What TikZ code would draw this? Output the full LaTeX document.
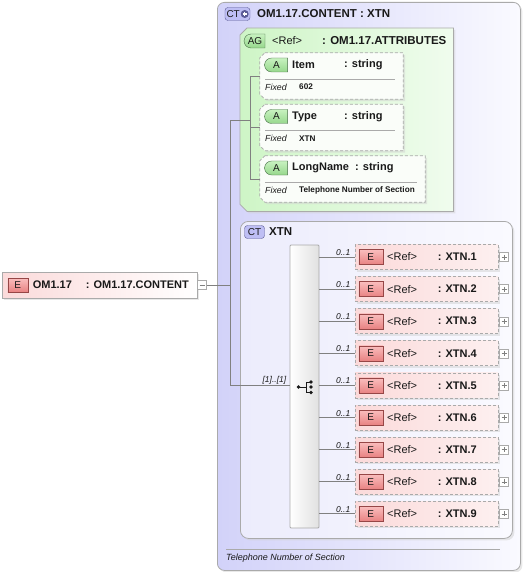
\documentclass[tikz,border=0pt]{standalone}
\usepackage{fontspec}
\setmainfont{Liberation Sans}
\usetikzlibrary{positioning,calc,shapes.misc,shadows}

\definecolor{ctlav}{RGB}{210,210,249}
\definecolor{ctlavr}{RGB}{250,250,255}
\definecolor{ctin}{RGB}{236,236,252}
\definecolor{aggreen}{RGB}{206,245,198}
\definecolor{aggreenl}{RGB}{240,252,238}
\definecolor{attrfill}{RGB}{250,253,249}
\definecolor{elpink}{RGB}{251,218,218}
\definecolor{elpinkl}{RGB}{253,240,240}
\definecolor{ebtop}{RGB}{250,190,190}
\definecolor{ebbot}{RGB}{232,130,130}
\definecolor{ebdraw}{RGB}{150,70,70}
\definecolor{abtop}{RGB}{200,242,192}
\definecolor{abbot}{RGB}{150,215,140}
\definecolor{abdraw}{RGB}{70,110,70}
\definecolor{ctbfill}{RGB}{190,190,244}
\definecolor{ctbdraw}{RGB}{90,90,150}
\definecolor{lineg}{RGB}{128,128,128}
\definecolor{boxg}{RGB}{170,170,170}
\definecolor{txt}{RGB}{25,25,25}

% outline of a box with cut left corners, round node #1
\newcommand\chamfbox[3]{%
  \path[#3] ([xshift=#2]#1.north west) -- (#1.north east) -- (#1.south east)
    -- ([xshift=#2]#1.south west) -- ([yshift=#2]#1.south west)
    -- ([yshift=-#2]#1.north west) -- cycle;}

\tikzset{
    conn/.style={draw=lineg, line width=0.7pt},
    sepline/.style={draw=boxg, line width=0.7pt},
    softshadow/.style={drop shadow={shadow xshift=2pt, shadow yshift=-2pt, fill=black!18}},
    area/.style={rectangle, inner sep=0pt},
    ctouter/.style={
        rectangle,
        rounded corners=7pt,
        draw=boxg, line width=0.8pt,
        left color=ctlav, right color=ctlavr,
        inner sep=0pt,
        softshadow
    },
    ctinner/.style={
        rectangle,
        rounded corners=8pt,
        draw=boxg, line width=0.8pt,
        left color=ctin, right color=ctlavr,
        inner sep=0pt,
        softshadow
    },
    agbox/.style={
        draw=boxg, line width=0.8pt,
        left color=aggreen, right color=aggreenl,
        softshadow
    },
    attrbox/.style={
        draw=boxg, line width=0.8pt, dash pattern=on 3pt off 2pt,
        fill=attrfill,
        softshadow
    },
    elbox/.style={
        rectangle,
        draw=boxg, line width=0.8pt, dash pattern=on 3pt off 2pt,
        left color=elpink, right color=elpinkl,
        minimum width=143pt, minimum height=25pt,
        inner sep=0pt,
        softshadow
    },
    seqbar/.style={
        rectangle,
        rounded corners=1pt,
        draw=boxg, line width=0.8pt,
        left color=white, right color=black!12,
        inner sep=0pt
    },
    ebadge/.style={
        rectangle,
        draw=ebdraw,
        top color=ebtop, bottom color=ebbot,
        minimum width=24pt, minimum height=15pt,
        inner sep=0pt, text=txt,
        font={\fontsize{10}{10}\selectfont}
    },
    abadge/.style={
        rounded rectangle, rounded rectangle right arc=none,
        draw=abdraw,
        top color=abtop, bottom color=abbot,
        minimum width=23pt, minimum height=14pt,
        inner sep=0pt, text=txt,
        font={\fontsize{10}{10}\selectfont}
    },
    ctbadge/.style={
        rectangle, rounded corners=3pt,
        draw=ctbdraw, fill=ctbfill,
        minimum height=13pt,
        inner sep=0pt, text=txt,
        font={\fontsize{10}{10}\selectfont}
    },
    plusdot/.style={
        circle, fill=ctbdraw, minimum size=8pt, inner sep=0pt,
        path picture={\draw[white, line width=1.2pt]
            ([xshift=1.8pt]path picture bounding box.west) -- ([xshift=-1.8pt]path picture bounding box.east)
            ([yshift=-1.8pt]path picture bounding box.north) -- ([yshift=1.8pt]path picture bounding box.south);}
    },
    expander/.style={
        rectangle, draw=boxg, fill=white, minimum size=9pt, inner sep=0pt,
        path picture={\draw[lineg]
            ([xshift=2pt]path picture bounding box.west) -- ([xshift=-2pt]path picture bounding box.east)
            ([yshift=-2pt]path picture bounding box.north) -- ([yshift=2pt]path picture bounding box.south);}
    },
    collapser/.style={
        rectangle, draw=boxg, fill=white, minimum size=9pt, inner sep=0pt,
        path picture={\draw[lineg]
            ([xshift=2pt]path picture bounding box.west) -- ([xshift=-2pt]path picture bounding box.east);}
    },
    hdrtext/.style={anchor=west, inner sep=0pt, text=txt, font={\fontsize{11.5}{12}\selectfont\bfseries}},
    reftext/.style={anchor=west, inner sep=0pt, text=txt, font={\fontsize{11}{12}\selectfont}},
    nametext/.style={anchor=west, inner sep=0pt, text=txt, font={\fontsize{11}{12}\selectfont\bfseries}},
    fixedlbl/.style={anchor=west, inner sep=0pt, text=txt, font={\fontsize{8.8}{10}\selectfont\itshape}},
    fixedval/.style={anchor=west, inner sep=0pt, text=txt, font={\fontsize{8.2}{10}\selectfont\bfseries}},
    mult/.style={inner sep=0pt, text=txt, font={\fontsize{8.5}{10}\selectfont\itshape}},
    doctext/.style={anchor=west, inner sep=0pt, text=txt, font={\fontsize{9}{10}\selectfont\itshape}},
}

\begin{document}
\begin{tikzpicture}[x=1pt, y=-1pt]
\useasboundingbox (0,0) rectangle (523,572);

% complex type OM1.17.CONTENT
\node[ctouter, anchor=north west, minimum width=303pt, minimum height=568pt] (ct) at (217,2) {};
\node[ctbadge, minimum width=25pt] (ctb) at (237.5,14) {};
\node[anchor=west, inner sep=0pt, text=txt, font={\fontsize{10}{10}\selectfont}] (ctb-t) at ([xshift=1.5pt]ctb.west) {CT};
\node[plusdot] (ctb-p) at ([xshift=-5.5pt]ctb.east) {};
\node[hdrtext] (ct-name) at (257,14) {OM1.17.CONTENT : XTN};

% attribute group
\node[area, anchor=north west, minimum width=213pt, minimum height=183pt] (ag) at (240,28) {};
\chamfbox{ag}{7pt}{agbox}
\node[abadge, minimum width=21pt] (agb) at (255,41) {AG};
\node[reftext] (ag-ref) at (272,41) {<Ref>};
\node[hdrtext] (ag-type) at (322,41) {: OM1.17.ATTRIBUTES};

% attributes
\foreach \n/\c/\v/\w [count=\i] in {Item/84/602/143, Type/84/XTN/143, LongName/95/Telephone Number of Section/165} {
  \pgfmathsetmacro\ty{53+51.5*(\i-1)}
  \node[area, minimum width=\w pt, minimum height=46pt] (attr-\i) at ({260+\w/2},{\ty+23}) {};
  \chamfbox{attr-\i}{5pt}{attrbox}
  \node[abadge] (attrb-\i) at (276.5,{\ty+12}) {A};
  \node[nametext] (attrn-\i) at (292,{\ty+12}) {\n};
  \node[nametext] (attrt-\i) at ({260+\c},{\ty+12}) {: string};
  \draw[sepline] (265,{\ty+26}) -- ({260+\w-8},{\ty+26});
  \node[fixedlbl] (attrf-\i) at (265,{\ty+34}) {Fixed};
  \node[fixedval] (attrv-\i) at (299,{\ty+34}) {\v};
}

% complex type XTN
\node[ctinner, anchor=north west, minimum width=272pt, minimum height=317pt] (xtnct) at (240,221) {};
\node[ctbadge, minimum width=20pt] (xtnb) at (254.5,232) {CT};
\node[hdrtext] (xtn-name) at (269,232) {XTN};

% sequence
\node[seqbar, minimum width=29pt, minimum height=283pt] (seq) at (304.5,386.5) {};
\begin{scope}[shift={(seq.center)}]
  \fill[txt] (-6,0.5) circle (1.9pt);
  \draw[txt, line width=0.8pt] (-6,0.5) -- (1.5,0.5) (1.5,-4.5) -- (1.5,6) (1.5,-4.5) -- (6.5,-4.5) (1.5,6) -- (6.5,6);
  \fill[txt] (6.5,-4.5) circle (1.9pt) (6.5,0.5) circle (1.9pt) (6.5,6) circle (1.9pt);
\end{scope}

% elements
\foreach \i in {1,...,9} {
  \node[elbox] (el-\i) at (426.5,{257+32.1*(\i-1)}) {};
  \node[ebadge, right=4pt of el-\i.west] (elb-\i) {E};
  \node[reftext, right=4pt of elb-\i] (elr-\i) {<Ref>};
  \node[nametext] (elt-\i) at ([xshift=83pt]el-\i.west) {: XTN.\i};
  \node[expander, right=1pt of el-\i] (elx-\i) {};
  \draw[conn] (seq.east |- el-\i.west) -- (el-\i.west)
    node[mult, at end, anchor=south east, xshift=-4pt, yshift=1pt] {0..1};
}

% root element
\node[rectangle, draw=boxg, line width=0.8pt, left color=elpink, right color=white,
      minimum width=195pt, minimum height=26pt, inner sep=0pt, softshadow] (om) at (99.5,285) {};
\node[ebadge, minimum width=20pt, minimum height=14pt, right=6pt of om.west] (omb) {E};
\node[nametext] (om-name) at ([xshift=31pt]om.west) {OM1.17};
\node[nametext] (om-type) at ([xshift=84pt]om.west) {: OM1.17.CONTENT};
\node[collapser, right=0pt of om] (omx) {};

% connectors
\coordinate (jn) at (230,285);
\coordinate (agj) at (250,120);
\draw[conn] (omx) -- (jn);
\draw[conn] (jn) |- (agj);
\draw[conn] (jn) |- (seq.west |- el-5.west)
  node[mult, at end, anchor=south east, xshift=-3pt, yshift=1pt] {[1]..[1]};
\draw[conn] (agj |- attr-1.west) -- (agj |- attr-3.west);
\foreach \i in {1,2,3}
  \draw[conn] (agj |- attr-\i.west) -- (attr-\i.west);

% documentation
\draw[sepline] (226,549) -- (500,549);
\node[doctext] (ct-doc) at (226,558) {Telephone Number of Section};

\end{tikzpicture}
\end{document}
